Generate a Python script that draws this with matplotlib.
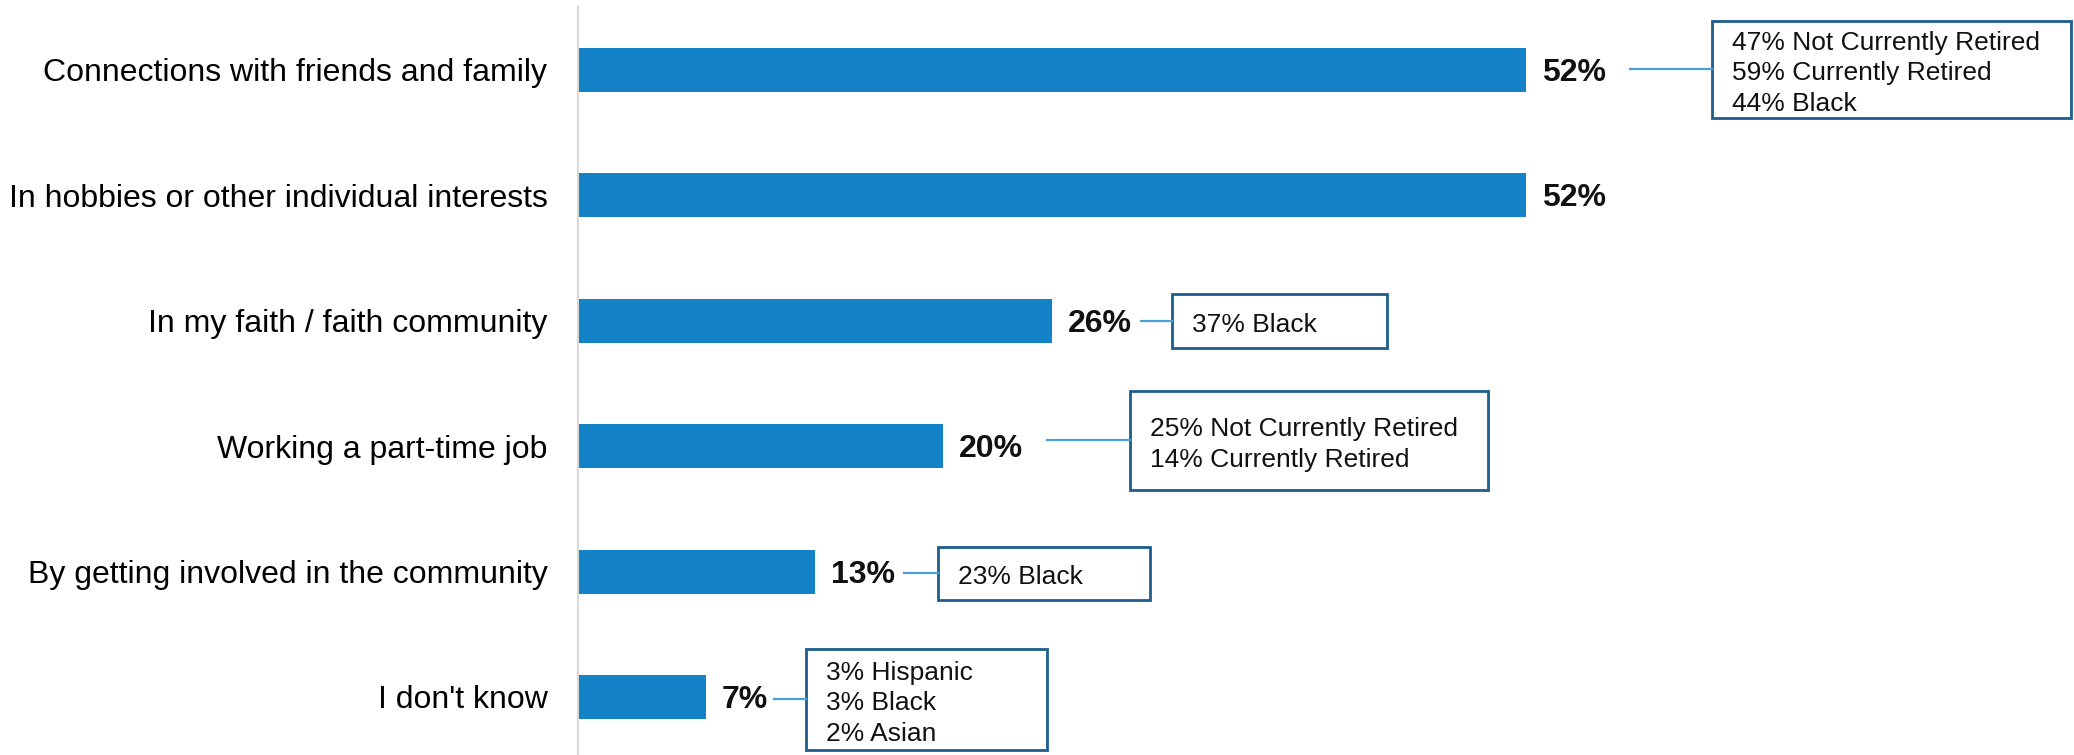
import matplotlib
matplotlib.use("Agg")
import matplotlib.pyplot as plt
from matplotlib.patches import Rectangle

plt.rcParams["font.family"] = ["Liberation Sans", "DejaVu Sans"]

categories = ["Connections with friends and family",
              "In hobbies or other individual interests",
              "In my faith / faith community",
              "Working a part-time job",
              "By getting involved in the community",
              "I don't know"]
values = [52, 52, 26, 20, 13, 7]
callouts = [["47% Not Currently Retired", "59% Currently Retired", "44% Black"],
            None,
            ["37% Black"],
            ["25% Not Currently Retired", "14% Currently Retired"],
            ["23% Black"],
            ["3% Hispanic", "3% Black", "2% Asian"]]

# callout layout in figure pixels: (line start x, box left, box right, box top, box bottom)
box_px = [(1630, 1712, 2071, 21, 118),
          None,
          (1141, 1172, 1387, 294, 348),
          (1047, 1130, 1488, 391, 490),
          (904, 938, 1150, 547, 600),
          (774, 806, 1047, 649, 750)]

BAR = "#1482c6"
BOX_EDGE = "#1b5e8e"
LINE = "#4a9fd6"
W, H = 2074, 755
X0 = 578            # pixel where bars start
PX_PCT = 18.23      # pixels per percent
PX_ROW = 125.4      # pixels per row
TOP = -70 / PX_ROW  # data y at top edge


def px_x(p):
    return (p - X0) / PX_PCT


def px_y(p):
    return TOP + p / PX_ROW


fig = plt.figure(figsize=(W / 100, H / 100), dpi=100)
ax = fig.add_axes([X0 / W, 0, 1 - X0 / W, 1])
ypos = list(range(len(categories)))
ax.barh(ypos, values, height=0.35, color=BAR)
ax.set_xlim(0, (W - X0) / PX_PCT)
ax.set_ylim(px_y(H), TOP)
ax.set_yticks(ypos)
ax.set_yticklabels(categories, fontsize=23)
ax.tick_params(axis="y", length=0, pad=22)
ax.tick_params(axis="x", bottom=False, labelbottom=False)
for s in ["top", "right", "bottom"]:
    ax.spines[s].set_visible(False)
ax.spines["left"].set_color("#d9d9d9")
ax.spines["left"].set_linewidth(1.5)
ax.spines["left"].set_bounds(px_y(H), px_y(7))

# y axis is inverted: adding moves text down
for y, v in zip(ypos, values):
    ax.text(v + 16 / PX_PCT, y + 3 / PX_ROW, f"{v}%", ha="left", va="center",
            fontsize=23, fontweight="bold", color="#111111")

for y, lines, b in zip(ypos, callouts, box_px):
    if not lines:
        continue
    lx, bl, br, bt, bb = b
    cy = px_y((bt + bb) / 2)
    ax.plot([px_x(lx), px_x(bl)], [cy, cy], color=LINE, lw=1.6, clip_on=False)
    ax.add_patch(Rectangle((px_x(bl), px_y(bt)), px_x(br) - px_x(bl), px_y(bb) - px_y(bt),
                           fill=False, ec=BOX_EDGE, lw=2.0, clip_on=False))
    ax.text(px_x(bl + 20), cy + 4 / PX_ROW, "\n".join(lines), ha="left", va="center",
            fontsize=19, color="#111111", linespacing=1.36)

fig.savefig("out.png", dpi=100)
